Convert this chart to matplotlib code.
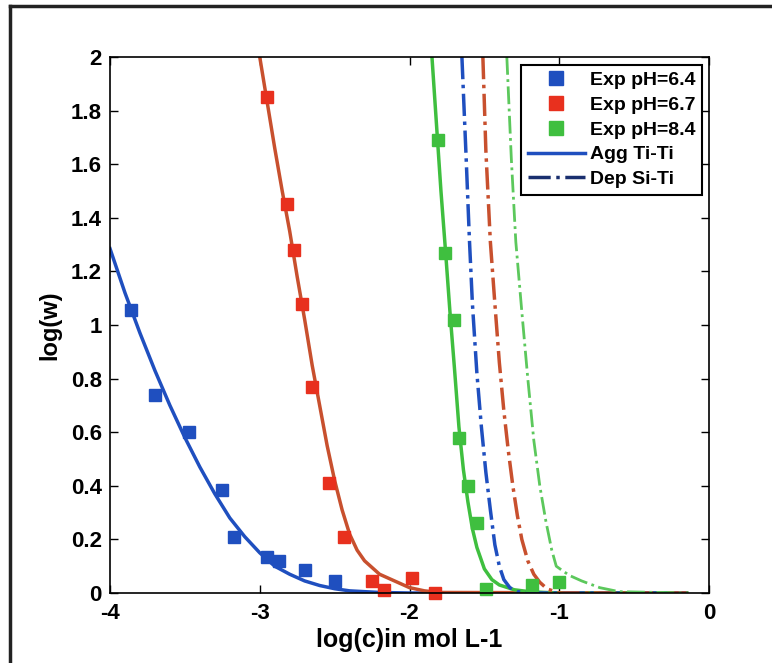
import matplotlib
matplotlib.use("Agg")
import matplotlib.pyplot as plt
from matplotlib.lines import Line2D

plt.rcParams['font.family'] = ['Liberation Sans', 'DejaVu Sans']
plt.rcParams['font.weight'] = 'bold'

# experimental points
exp64_x = [-3.86, -3.70, -3.47, -3.25, -3.17, -2.95, -2.87, -2.70, -2.50]
exp64_y = [1.055, 0.74, 0.60, 0.385, 0.21, 0.135, 0.12, 0.085, 0.045]

exp67_x = [-2.95, -2.82, -2.77, -2.72, -2.65, -2.54, -2.44, -2.25, -2.17, -1.98, -1.83]
exp67_y = [1.85, 1.45, 1.28, 1.08, 0.77, 0.41, 0.21, 0.045, 0.01, 0.055, 0.0]

exp84_x = [-1.81, -1.76, -1.70, -1.67, -1.61, -1.55, -1.49, -1.18, -1.00]
exp84_y = [1.69, 1.27, 1.02, 0.58, 0.40, 0.26, 0.015, 0.03, 0.04]

# Agg Ti-Ti curves (solid)
agg64_x = [-4.0, -3.9, -3.8, -3.7, -3.6, -3.5, -3.4, -3.3, -3.2, -3.1, -3.0, -2.9,
           -2.8, -2.7, -2.6, -2.5, -2.4, -2.2, -2.0, -0.15]
agg64_y = [1.285, 1.12, 0.97, 0.83, 0.70, 0.58, 0.47, 0.37, 0.28, 0.21, 0.15, 0.10,
           0.07, 0.045, 0.028, 0.016, 0.008, 0.002, 0.0, 0.0]

agg67_x = [-3.0, -2.95, -2.9, -2.85, -2.8, -2.75, -2.7, -2.65, -2.6, -2.55, -2.5,
           -2.45, -2.4, -2.35, -2.3, -2.2, -2.1, -2.0, -1.9, -1.8, -0.15]
agg67_y = [2.0, 1.83, 1.66, 1.50, 1.35, 1.18, 1.02, 0.85, 0.70, 0.55, 0.42,
           0.31, 0.22, 0.16, 0.12, 0.07, 0.045, 0.02, 0.008, 0.002, 0.0]

agg84_x = [-1.85, -1.82, -1.79, -1.76, -1.73, -1.70, -1.67, -1.64, -1.61, -1.58,
           -1.55, -1.5, -1.45, -1.4, -1.3, -1.2, -1.1, -1.0, -0.15]
agg84_y = [2.0, 1.75, 1.50, 1.28, 1.05, 0.84, 0.62, 0.46, 0.34, 0.24,
           0.17, 0.09, 0.05, 0.03, 0.012, 0.005, 0.002, 0.0, 0.0]

# Dep Si-Ti curves (dash-dot)
dep64_x = [-1.65, -1.62, -1.60, -1.58, -1.55, -1.52, -1.49, -1.46, -1.43, -1.40,
           -1.37, -1.33, -1.28, -1.2, -0.15]
dep64_y = [2.0, 1.6, 1.32, 1.08, 0.82, 0.62, 0.45, 0.31, 0.18, 0.10,
           0.05, 0.02, 0.005, 0.0, 0.0]

dep67_x = [-1.51, -1.49, -1.46, -1.43, -1.40, -1.37, -1.34, -1.31, -1.28, -1.25,
           -1.21, -1.17, -1.13, -1.08, -1.0, -0.15]
dep67_y = [2.0, 1.65, 1.31, 1.08, 0.86, 0.68, 0.53, 0.40, 0.29, 0.20,
           0.12, 0.07, 0.04, 0.015, 0.0, 0.0]

dep84_x = [-1.35, -1.32, -1.29, -1.25, -1.21, -1.17, -1.13, -1.09, -1.05, -1.02,
           -0.97, -0.93, -0.85, -0.73, -0.6, -0.15]
dep84_y = [2.0, 1.62, 1.31, 1.05, 0.80, 0.57, 0.40, 0.27, 0.16, 0.10,
           0.08, 0.065, 0.045, 0.02, 0.005, 0.0]

blue = '#1f4fbf'
red = '#e8301e'
red_line = '#c8502e'
green = '#3fbf3f'

fig = plt.figure(figsize=(7.72, 6.63), dpi=100)
ax = fig.add_axes([110 / 772, 1 - 593 / 663, 599 / 772, 536 / 663])

ax.plot(agg64_x, agg64_y, color=blue, lw=2.5)
ax.plot(agg67_x, agg67_y, color=red_line, lw=2.5)
ax.plot(agg84_x, agg84_y, color=green, lw=2.5)

ax.plot(dep64_x, dep64_y, color=blue, lw=2.5, ls='-.')
ax.plot(dep67_x, dep67_y, color=red_line, lw=2.5, ls='-.')
ax.plot(dep84_x, dep84_y, color='#5cc85c', lw=2.0, ls='-.')

ax.plot(exp64_x, exp64_y, 's', color=blue, ms=9, ls='none', clip_on=False)
ax.plot(exp67_x, exp67_y, 's', color=red, ms=9, ls='none', clip_on=False)
ax.plot(exp84_x, exp84_y, 's', color=green, ms=9, ls='none', clip_on=False)

handles = [
    Line2D([], [], marker='s', color=blue, ls='none', ms=10),
    Line2D([], [], marker='s', color=red, ls='none', ms=10),
    Line2D([], [], marker='s', color=green, ls='none', ms=10),
    Line2D([], [], color=blue, lw=2.5),
    Line2D([], [], color='#1a2f6f', lw=2.5, ls='-.'),
]
labels = ['Exp pH=6.4', 'Exp pH=6.7', 'Exp pH=8.4', 'Agg Ti-Ti', 'Dep Si-Ti']
leg = ax.legend(handles, labels, loc='upper right', bbox_to_anchor=(0.988, 0.986),
                borderaxespad=0, fancybox=False, edgecolor='black', framealpha=1,
                prop={'weight': 'bold', 'size': 14}, handlelength=2.9,
                borderpad=0.35, labelspacing=0.37, handletextpad=0.25)
leg.get_frame().set_linewidth(1.5)

ax.set_xlim(-4, 0)
ax.set_ylim(0, 2)
ax.set_xticks([-4, -3, -2, -1, 0])
ax.set_xticklabels(['-4', '-3', '-2', '-1', '0'])
ax.set_yticks([0, 0.2, 0.4, 0.6, 0.8, 1, 1.2, 1.4, 1.6, 1.8, 2])
ax.set_yticklabels(['0', '0.2', '0.4', '0.6', '0.8', '1', '1.2', '1.4', '1.6', '1.8', '2'])
ax.tick_params(direction='in', top=True, right=True, length=6, labelsize=16, width=1)
ax.tick_params(axis='x', pad=7)
ax.tick_params(axis='y', pad=6)
for lab in ax.get_xticklabels() + ax.get_yticklabels():
    lab.set_fontweight('bold')
for s in ax.spines.values():
    s.set_linewidth(1.2)

ax.set_xlabel('log(c)in mol L-1', fontsize=18, fontweight='bold')
ax.set_ylabel('log(w)', fontsize=17, fontweight='bold')
ax.xaxis.set_label_coords(0.5, -0.066)
ax.yaxis.set_label_coords(-0.082, 0.5)

# outer frame
fig.add_artist(Line2D([10 / 772, 10 / 772], [0, 1 - 6 / 663], color='#222222', lw=2.5,
                      transform=fig.transFigure))
fig.add_artist(Line2D([10 / 772, 1], [1 - 6 / 663, 1 - 6 / 663], color='#222222', lw=2.5,
                      transform=fig.transFigure))

fig.savefig('out.png', dpi=100)
